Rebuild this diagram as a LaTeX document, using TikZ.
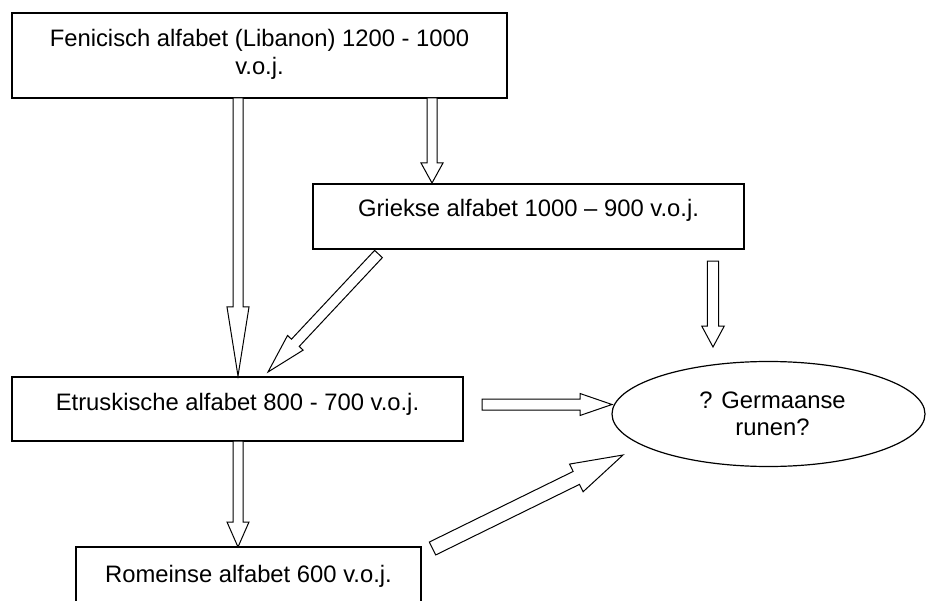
\documentclass[tikz,border=0pt]{standalone}
\usepackage{fontspec}
\setmainfont{Liberation Sans}
\usetikzlibrary{calc,shapes.geometric}
\newcommand\blockarrow[5]{% #1 from, #2 to, #3 half shaft, #4 half head, #5 head length
  \coordinate (ba-c) at ($(#2)!#5!(#1)$);
  \draw[barrow] ($(#1)!#3!90:(#2)$) -- ($(ba-c)!#3!90:(#2)$) -- ($(ba-c)!#4!90:(#2)$) -- (#2)
    -- ($(ba-c)!#4!-90:(#2)$) -- ($(ba-c)!#3!-90:(#2)$) -- ($(#1)!#3!-90:(#2)$) -- cycle;
}
\begin{document}
\begin{tikzpicture}[x=1bp,y=-1bp,
  box/.style={draw, line width=1.3bp, inner sep=0pt, fill=white},
  txt/.style={inner sep=0pt, anchor=base, font=\fontsize{23.8bp}{28bp}\selectfont},
  barrow/.style={draw, line width=1bp, fill=white, line join=miter}]
\useasboundingbox (0,0) rectangle (926,601);
\clip (0,0) rectangle (926,601);
% boxes
\node[box, minimum width=495bp, minimum height=85bp] (fen) at (259.5,55.5) {};
\node[box, minimum width=431bp, minimum height=65bp] (grk) at (528.5,216.5) {};
\node[box, minimum width=451bp, minimum height=64bp] (etr) at (237.5,409) {};
\node[box, minimum width=345bp, minimum height=93bp] (rom) at (248.5,593.5) {};
\node[draw, line width=1.2bp, ellipse, inner sep=0pt, minimum width=313bp, minimum height=105bp] (run) at (768.5,414) {};
% texts
\node[txt] (fent1) at (259.5,47) {Fenicisch alfabet (Libanon) 1200 - 1000};
\node[txt] (fent2) at (259.5,75) {v.o.j.};
\node[txt] (grkt) at (528.5,217) {Griekse alfabet 1000 – 900 v.o.j.};
\node[txt] (etrt) at (237.5,410) {Etruskische alfabet 800 - 700 v.o.j.};
\node[txt] (romt) at (248.5,582) {Romeinse alfabet 600 v.o.j.};
\node[txt] (runt1) at (772.5,408) {? Germaanse};
\node[txt] (runt2) at (772.5,435) {runen?};
% arrow end points
\coordinate (a1s) at (238,98);    \coordinate (a1e) at (238,376);
\coordinate (a2s) at (432,98);    \coordinate (a2e) at (432,183);
\coordinate (a3s) at (378.5,254); \coordinate (a3e) at (268,372);
\coordinate (a4s) at (713,261);   \coordinate (a4e) at (713,347);
\coordinate (a5s) at (482,404.5); \coordinate (a5e) at (612,404.5);
\coordinate (a6s) at (238,441);   \coordinate (a6e) at (238,547);
\coordinate (a7s) at (432.5,548.5); \coordinate (a7e) at (623,455);
\blockarrow{a1s}{a1e}{5bp}{11bp}{69bp}
\blockarrow{a2s}{a2e}{5bp}{11bp}{20bp}
\blockarrow{a3s}{a3e}{5.3bp}{10.7bp}{40bp}
\blockarrow{a4s}{a4e}{5.7bp}{11.3bp}{21bp}
\blockarrow{a5s}{a5e}{5.5bp}{11bp}{32bp}
\blockarrow{a6s}{a6e}{5bp}{11bp}{25bp}
\blockarrow{a7s}{a7e}{7.2bp}{15.4bp}{52bp}
\end{tikzpicture}
\end{document}
